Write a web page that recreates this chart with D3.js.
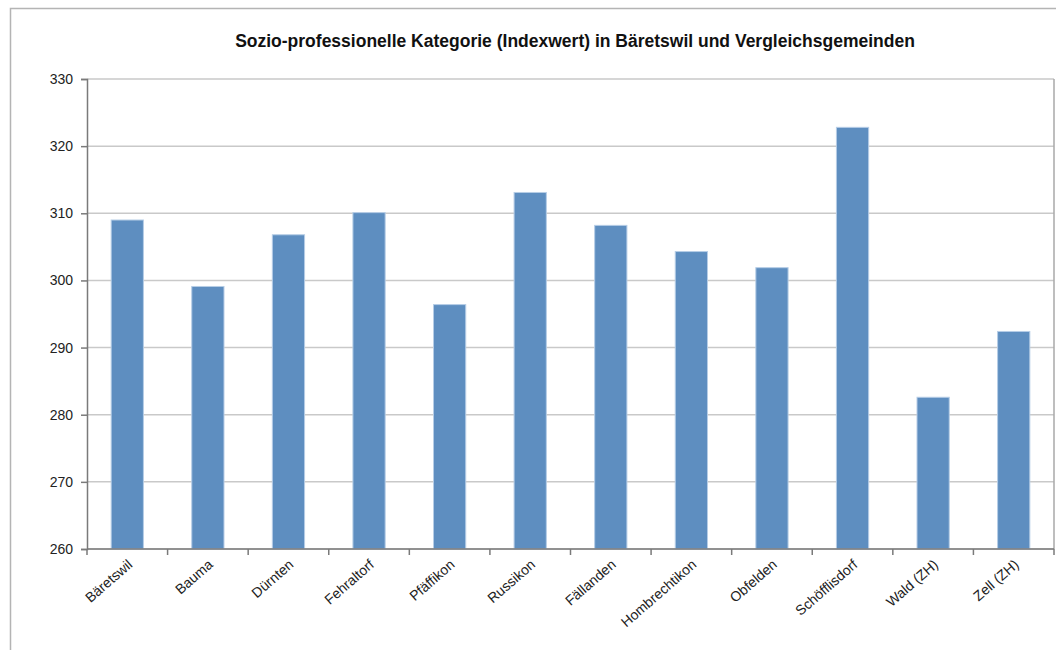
<!DOCTYPE html>
<html>
<head>
<meta charset="utf-8">
<script src="https://cdn.jsdelivr.net/npm/d3@7"></script>
<style>
  body { margin: 0; background: #fff; }
  svg { display: block; font-family: "Liberation Sans", Arial, Helvetica, sans-serif; }
</style>
</head>
<body>
<div id="chart"></div>
<script>
// Gemeinden and index values
const gemeinden = ["Bäretswil", "Bauma", "Dürnten", "Fehraltorf", "Pfäffikon", "Russikon",
    "Fällanden", "Hombrechtikon", "Obfelden", "Schöfflisdorf", "Wald (ZH)", "Zell (ZH)"];
const indexwerte = [309.0, 299.1, 306.8, 310.1, 296.4, 313.1, 308.2, 304.3, 301.9, 322.8, 282.6, 292.4];
const yTicks = [260, 270, 280, 290, 300, 310, 320, 330];
const title = "Sozio-professionelle Kategorie (Indexwert) in Bäretswil und Vergleichsgemeinden";

const width = 1056, height = 650;
const margin = { top: 79, right: 2, bottom: 101, left: 87 };

const svg = d3.select("#chart")
    .append("svg")
    .attr("width", width)
    .attr("height", height);

// outer frame
svg.append("rect")
    .attr("x", 10.5).attr("y", 8.5)
    .attr("width", 1100).attr("height", 700)
    .style("fill", "none")
    .style("stroke", "#b4b4b4")
    .style("stroke-width", "1.5px");

svg.append("text")
    .attr("x", 575)
    .attr("y", 47)
    .attr("text-anchor", "middle")
    .style("font-size", "17.5px")
    .style("font-weight", "bold")
    .style("fill", "#111")
    .text(title);

const x = d3.scaleBand()
    .domain(gemeinden)
    .range([margin.left, width - margin.right])
    .paddingInner(0.6)
    .paddingOuter(0.3);

const y = d3.scaleLinear()
    .domain([260, 330])
    .range([height - margin.bottom, margin.top]);

const g = svg.append("g");

// gridlines
g.selectAll("line.grid")
    .data(yTicks)
    .enter()
    .append("line")
    .attr("class", "grid")
    .attr("x1", margin.left)
    .attr("x2", width - margin.right)
    .attr("y1", d => y(d))
    .attr("y2", d => y(d))
    .style("stroke", "#c9c9c9")
    .style("stroke-width", "1.5px");

// right border
g.append("line")
    .attr("x1", width - margin.right).attr("x2", width - margin.right)
    .attr("y1", margin.top).attr("y2", height - margin.bottom)
    .style("stroke", "#a8a8a8")
    .style("stroke-width", "1.5px");

// bars
g.selectAll("rect.bar")
    .data(gemeinden)
    .enter()
    .append("rect")
    .attr("class", "bar")
    .attr("x", d => x(d))
    .attr("width", x.bandwidth())
    .attr("y", (d, i) => y(indexwerte[i]))
    .attr("height", (d, i) => y(260) - y(indexwerte[i]))
    .style("fill", "#5e8ec0")
    .style("stroke", "#b6cde6")
    .style("stroke-width", "1px");

// y axis
const yAxis = d3.axisLeft(y)
    .tickValues(yTicks)
    .tickSize(6)
    .tickPadding(8);

const yG = svg.append("g")
    .attr("transform", `translate(${margin.left},0)`)
    .call(yAxis);
yG.select(".domain").style("stroke", "#7a7a7a").style("stroke-width", "1.5px");
yG.selectAll(".tick line").style("stroke", "#7a7a7a").style("stroke-width", "1.5px");
yG.selectAll(".tick text")
    .style("font-size", "14px")
    .style("fill", "#222")
    .style("font-family", "\"Liberation Sans\", Arial, sans-serif");

// x axis: ticks at category boundaries
const step = x.step();
const boundaries = d3.range(gemeinden.length + 1).map(k => margin.left + k * step);

svg.append("line")
    .attr("x1", margin.left)
    .attr("x2", width - margin.right)
    .attr("y1", y(260))
    .attr("y2", y(260))
    .style("stroke", "#7a7a7a")
    .style("stroke-width", "1.5px");

svg.selectAll("line.xtick")
    .data(boundaries)
    .enter()
    .append("line")
    .attr("class", "xtick")
    .attr("x1", d => d)
    .attr("x2", d => d)
    .attr("y1", y(260))
    .attr("y2", y(260) + 6)
    .style("stroke", "#7a7a7a")
    .style("stroke-width", "1.5px");

svg.selectAll("text.xlabel")
    .data(gemeinden)
    .enter()
    .append("text")
    .attr("class", "xlabel")
    .attr("text-anchor", "end")
    .attr("transform", d => `translate(${x(d) + x.bandwidth() / 2 + 6},${y(260) + 17}) rotate(-41)`)
    .style("font-size", "14px")
    .style("fill", "#222")
    .text(d => d);
</script>
</body>
</html>
